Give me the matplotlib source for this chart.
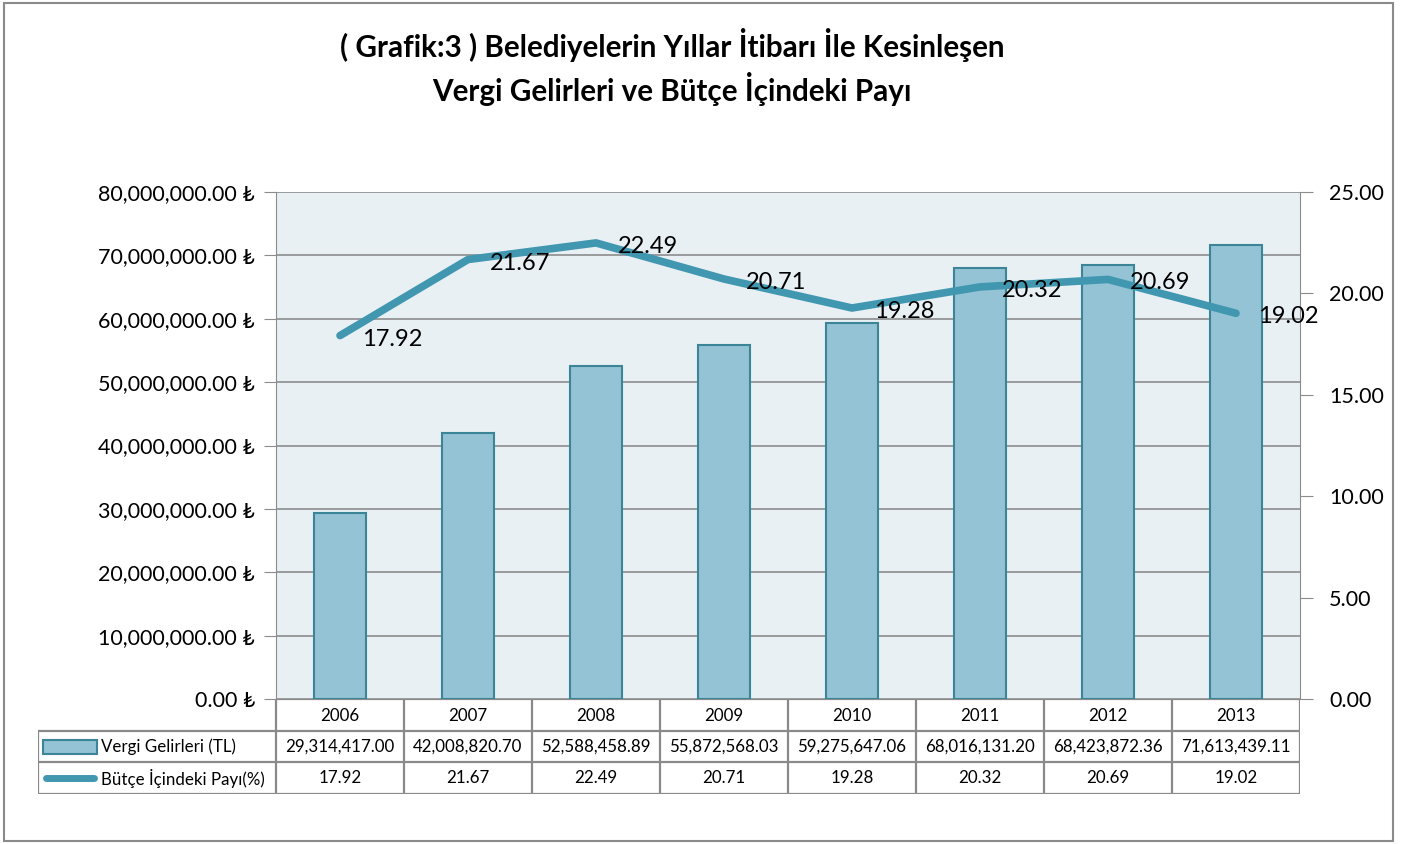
import matplotlib.pyplot as plt
from matplotlib.patches import Rectangle
from matplotlib.lines import Line2D
from matplotlib.ticker import FuncFormatter, MultipleLocator

plt.rcParams['font.family'] = ['Lato', 'DejaVu Sans']

years = ["2006", "2007", "2008", "2009", "2010", "2011", "2012", "2013"]
vergi = [29314417.00, 42008820.70, 52588458.89, 55872568.03,
         59275647.06, 68016131.20, 68423872.36, 71613439.11]
pay = [17.92, 21.67, 22.49, 20.71, 19.28, 20.32, 20.69, 19.02]
bar_name = "Vergi Gelirleri (TL)"
line_name = "Bütçe İçindeki Payı(%)"
title = "( Grafik:3 ) Belediyelerin Yıllar İtibarı İle Kesinleşen\nVergi Gelirleri ve Bütçe İçindeki Payı"

W, H = 1405, 844
bar_fc = "#93c3d5"
bar_ec = "#3c8598"
line_c = "#4197b0"
grid_c = "#8c8c8c"

fig = plt.figure(figsize=(W / 100, H / 100), dpi=100)

# outer frame
fig.patches.append(Rectangle((4 / W, 3 / H), 1389 / W, 838 / H, transform=fig.transFigure,
                             fill=False, edgecolor="#8a8a8a", linewidth=1.5))

fig.text(672 / W, 1 - 67 / H, title, ha="center", va="center", fontsize=21.3,
         fontweight="bold", linespacing=1.35)

# main axes (pixel box 276..1300, 192..699)
ax = fig.add_axes([276 / W, 1 - 699 / H, 1024 / W, 507 / H])
ax.set_facecolor("#e8f0f4")
x = list(range(len(years)))
ax.bar(x, vergi, width=0.4, color=bar_fc, edgecolor=bar_ec, linewidth=1.5, zorder=3)
ax.set_xlim(-0.5, len(years) - 0.5)
ax.set_ylim(0, 80000000)
ax.yaxis.set_major_locator(MultipleLocator(10000000))
ax.yaxis.set_major_formatter(FuncFormatter(lambda v, p: f"{v:,.2f} ₺"))
ax.grid(axis="y", color=grid_c, linewidth=1.2, zorder=0)
ax.set_xticks([])
ax.tick_params(axis="y", labelsize=15.5, length=9, color=grid_c, pad=6)
for s in ["left", "right", "top"]:
    ax.spines[s].set_color(grid_c)
ax.spines["top"].set_visible(False)
ax.spines["bottom"].set_visible(False)

ax2 = ax.twinx()
ax2.plot(x, pay, color=line_c, linewidth=5.5, solid_capstyle="round",
         solid_joinstyle="round", zorder=4)
for xi, v in zip(x, pay):
    ax2.annotate(f"{v:.2f}", (xi, v), xytext=(16, -2.5), textcoords="offset points",
                 ha="left", va="center", fontsize=17, zorder=5)
ax2.set_ylim(0, 25)
ax2.yaxis.set_major_locator(MultipleLocator(5))
ax2.yaxis.set_major_formatter(FuncFormatter(lambda v, p: f"{v:.2f}"))
ax2.tick_params(axis="y", labelsize=15.5, length=9, color=grid_c, pad=12)
for s in ["left", "right", "top", "bottom"]:
    ax2.spines[s].set_visible(False)

# data table under the chart (pixel box 38..1300, 699..794)
n = len(years)
left_units = 238 / 128
tax = fig.add_axes([38 / W, 1 - 794 / H, 1262 / W, 95 / H])
tax.set_xlim(-0.5 - left_units, n - 0.5)
tax.set_ylim(3, 0)
tax.axis("off")
tc = "#8a8a8a"
lw = 1.6
# horizontal lines
tax.plot([-0.5, n - 0.5], [0, 0], color=tc, lw=lw)
for yy in [1, 2, 3]:
    tax.plot([-0.5 - left_units, n - 0.5], [yy, yy], color=tc, lw=lw)
# vertical lines
for i in range(n + 1):
    tax.plot([i - 0.5, i - 0.5], [0, 3], color=tc, lw=lw)
tax.plot([-0.5 - left_units] * 2, [1, 3], color=tc, lw=lw)

fs = 12.2
for i in range(n):
    tax.text(i, 0.55, years[i], ha="center", va="center", fontsize=fs)
    tax.text(i, 1.5, f"{vergi[i]:,.2f}", ha="center", va="center", fontsize=fs)
    tax.text(i, 2.5, f"{pay[i]:.2f}", ha="center", va="center", fontsize=fs)

x0 = -0.5 - left_units
tax.add_patch(Rectangle((x0 + 0.04, 1.3), 0.42, 0.45, facecolor=bar_fc, edgecolor=bar_ec, lw=1.5))
tax.text(x0 + 0.49, 1.5, bar_name, ha="left", va="center", fontsize=fs)
tax.add_line(Line2D([x0 + 0.06, x0 + 0.44], [2.5, 2.5], color=line_c, lw=5,
                    solid_capstyle="round"))
tax.text(x0 + 0.49, 2.5, line_name, ha="left", va="center", fontsize=fs)

fig.savefig("out.png", dpi=100)
